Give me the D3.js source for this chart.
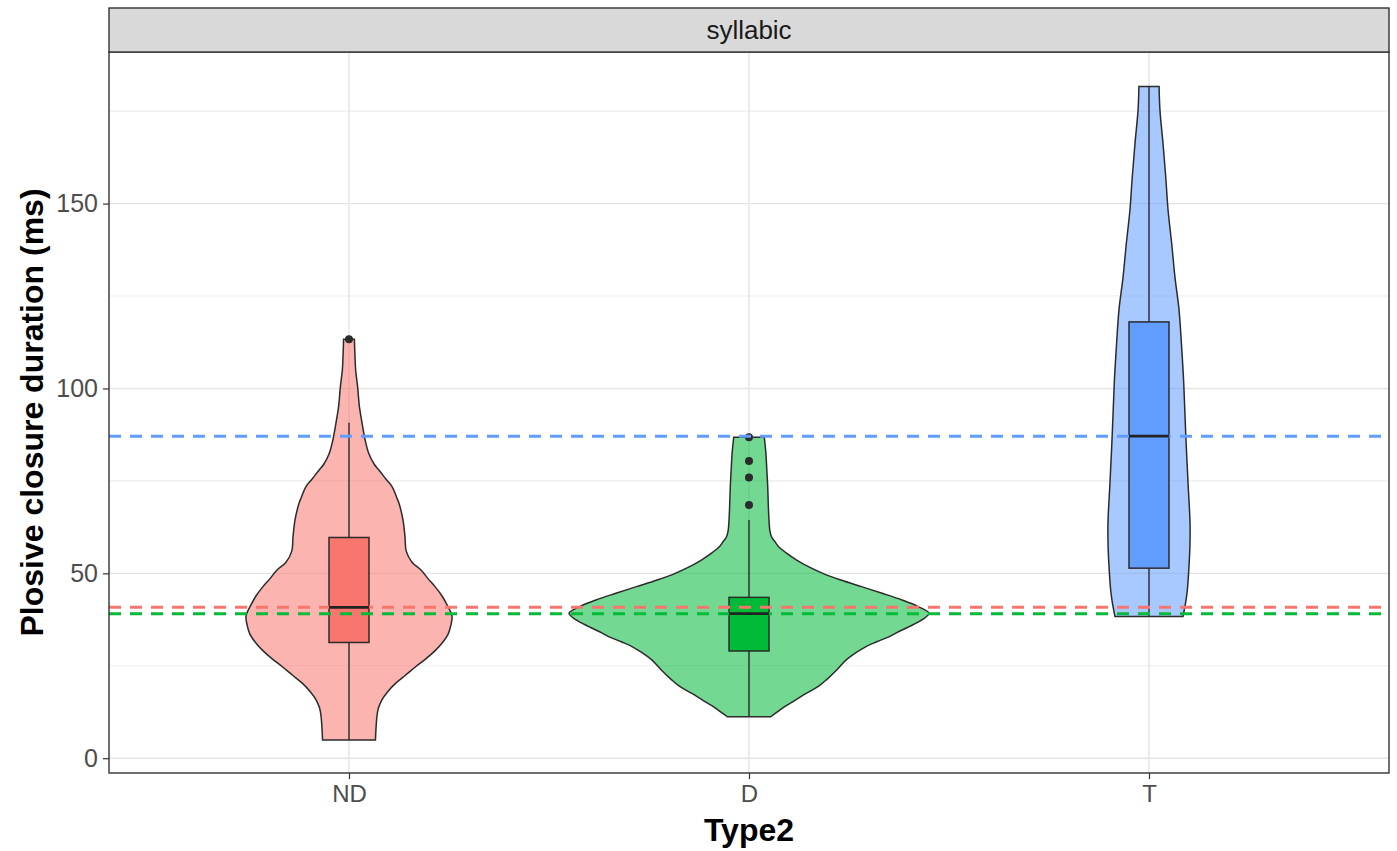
<!DOCTYPE html>
<html>
<head>
<meta charset="utf-8">
<script src="https://cdn.jsdelivr.net/npm/d3@7"></script>
<style>
  body { margin: 0; background: #fff; }
  text { font-family: "Liberation Sans", Arial, sans-serif; }
</style>
</head>
<body>
<svg id="chart" width="1397" height="851"></svg>
<script>
// Categories and colours
const categories = ["ND", "D", "T"];
const colors = ["#F8766D", "#00BA38", "#619CFF"];

// Violin outlines: [duration (ms), relative density], top to bottom
const violinND = [
  [113.3, 0.030], [109, 0.033], [105, 0.037], [100.4, 0.048], [95, 0.058], [91.4, 0.070],
  [86, 0.090], [82.4, 0.110], [79.5, 0.140], [77.9, 0.167], [75.5, 0.205], [73.4, 0.240],
  [70.5, 0.265], [68.9, 0.278], [64.4, 0.300], [59.9, 0.311], [56, 0.318], [53, 0.350],
  [50.9, 0.400], [48.5, 0.440], [46.4, 0.478], [44, 0.515], [41.9, 0.540], [38.5, 0.572],
  [36, 0.566], [33.5, 0.550], [31, 0.515], [29.3, 0.483], [27, 0.430], [24.8, 0.372],
  [22.5, 0.315], [20.3, 0.260], [18, 0.215], [15.8, 0.183], [13.5, 0.163], [11.2, 0.155],
  [8, 0.150], [4.9, 0.147]
];
const violinD = [
  [86.8, 0.085], [82.4, 0.094], [78, 0.099], [73.4, 0.104], [68.9, 0.107], [64.4, 0.111],
  [61.5, 0.116], [59.9, 0.125], [58.5, 0.145], [57.2, 0.165], [55.4, 0.210], [53.6, 0.265],
  [51.8, 0.330], [50, 0.410], [48.2, 0.510], [46.4, 0.625], [44.6, 0.740], [42.8, 0.850],
  [41, 0.940], [39.2, 1.000], [37.4, 0.960], [35.6, 0.890], [34.2, 0.830], [32.9, 0.780],
  [31.5, 0.710], [30.2, 0.650], [28.4, 0.590], [26.6, 0.540], [24, 0.490], [21.2, 0.430],
  [19.4, 0.385], [17.6, 0.320], [15.8, 0.260], [14, 0.200], [12.6, 0.160], [11.2, 0.120]
];
const violinT = [
  [181.7, 0.056], [175.2, 0.061], [166.2, 0.078], [157.2, 0.093], [148.2, 0.106],
  [139.2, 0.126], [130.2, 0.144], [121.2, 0.167], [112.2, 0.180], [101.4, 0.193],
  [87.8, 0.204], [74.3, 0.217], [63.5, 0.228], [57, 0.227], [51.8, 0.222], [46, 0.214],
  [42.8, 0.206], [38.3, 0.189]
];
const violins = [violinND, violinD, violinT];

// Box summaries: [lower whisker, Q1, median, Q3, upper whisker]
const boxND = [4.9, 31.3, 40.8, 59.7, 90.7];
const boxD = [11.2, 29.0, 39.1, 43.5, 64.4];
const boxT = [38.3, 51.4, 87.1, 118.0, 181.7];
const boxes = [boxND, boxD, boxT];

// Outlying observations
const outliersND = [113.3];
const outliersD = [86.8, 80.4, 75.9, 68.5];
const outliersT = [];
const outliers = [outliersND, outliersD, outliersT];

// Axis ticks
const yMajorTicks = [0, 50, 100, 150];
const yMinorTicks = [25, 75, 125, 175];

const panelTitle = "syllabic";
const xTitle = "Type2";
const yTitle = "Plosive closure duration (ms)";

// Layout
const svg = d3.select("#chart");
const P = { left: 109, right: 1389, top: 52, bottom: 773, stripTop: 8 };

const x = d3.scalePoint().domain(categories).range([P.left, P.right]).padding(0.6);
const step = x.step();
const y = d3.scaleLinear().domain([-4, 191]).range([P.bottom, P.top]);
const w = d3.scaleLinear().domain([0, 1]).range([0, step * 0.45]);
const boxHalf = step * 0.05;
const ink = "#2b2b2b";

// Panel background and grid
svg.append("rect").attr("x", P.left).attr("y", P.top)
  .attr("width", P.right - P.left).attr("height", P.bottom - P.top).attr("fill", "#fff");

const grid = svg.append("g");
grid.selectAll(".minor").data(yMinorTicks).join("line")
  .attr("x1", P.left).attr("x2", P.right)
  .attr("y1", d => y(d)).attr("y2", d => y(d))
  .attr("stroke", "#EDEDED").attr("stroke-width", 1.1);
grid.selectAll(".major").data(yMajorTicks).join("line")
  .attr("x1", P.left).attr("x2", P.right)
  .attr("y1", d => y(d)).attr("y2", d => y(d))
  .attr("stroke", "#E4E4E4").attr("stroke-width", 1.4);
grid.selectAll(".vmajor").data(categories).join("line")
  .attr("x1", d => x(d)).attr("x2", d => x(d))
  .attr("y1", P.top).attr("y2", P.bottom)
  .attr("stroke", "#E4E4E4").attr("stroke-width", 1.4);

// Violins
const line = d3.line().curve(d3.curveCatmullRom);
categories.forEach((cat, i) => {
  const cx = x(cat);
  const prof = violins[i];
  const right = prof.map(d => [cx + w(d[1]), y(d[0])]);
  const left = prof.slice().reverse().map(d => [cx - w(d[1]), y(d[0])]);
  const pathD = line(right) + "L" + line(left).slice(1) + "Z";
  svg.append("path").attr("d", pathD)
    .attr("fill", colors[i]).attr("fill-opacity", 0.55)
    .attr("stroke", ink).attr("stroke-width", 1.5);
});

// Boxplots (whiskers, boxes, outliers)
categories.forEach((cat, i) => {
  const cx = x(cat);
  const [lo, q1, med, q3, hi] = boxes[i];
  const g = svg.append("g");
  g.append("line").attr("x1", cx).attr("x2", cx).attr("y1", y(q3)).attr("y2", y(hi))
    .attr("stroke", ink).attr("stroke-width", 1.4);
  g.append("line").attr("x1", cx).attr("x2", cx).attr("y1", y(q1)).attr("y2", y(lo))
    .attr("stroke", ink).attr("stroke-width", 1.4);
  g.append("rect").attr("x", cx - boxHalf).attr("width", boxHalf * 2)
    .attr("y", y(q3)).attr("height", y(q1) - y(q3))
    .attr("fill", colors[i]).attr("stroke", ink).attr("stroke-width", 1.5);
  g.selectAll("circle").data(outliers[i]).join("circle")
    .attr("cx", cx).attr("cy", d => y(d)).attr("r", 4).attr("fill", ink);
});

// Median reference lines
categories.forEach((cat, i) => {
  const med = boxes[i][2];
  svg.append("line").attr("x1", P.left).attr("x2", P.right)
    .attr("y1", y(med)).attr("y2", y(med))
    .attr("stroke", colors[i]).attr("stroke-width", 3)
    .attr("stroke-dasharray", "12,9");
});

// Median bars inside the boxes
categories.forEach((cat, i) => {
  const cx = x(cat);
  const med = boxes[i][2];
  svg.append("line").attr("x1", cx - boxHalf).attr("x2", cx + boxHalf)
    .attr("y1", y(med)).attr("y2", y(med))
    .attr("stroke", "#222").attr("stroke-width", 2.8);
});

// Panel border
svg.append("rect").attr("x", P.left).attr("y", P.top)
  .attr("width", P.right - P.left).attr("height", P.bottom - P.top)
  .attr("fill", "none").attr("stroke", "#333").attr("stroke-width", 1.4);

// Facet strip
svg.append("rect").attr("x", P.left).attr("y", P.stripTop)
  .attr("width", P.right - P.left).attr("height", P.top - P.stripTop)
  .attr("fill", "#D9D9D9").attr("stroke", "#333").attr("stroke-width", 1.4);
svg.append("text").attr("x", (P.left + P.right) / 2).attr("y", (P.stripTop + P.top) / 2)
  .attr("text-anchor", "middle").attr("dominant-baseline", "central")
  .attr("font-size", 26).attr("fill", "#1A1A1A").text(panelTitle);

// Y axis
const yAxis = d3.axisLeft(y).tickValues(yMajorTicks).tickSize(6).tickPadding(5);
const gy = svg.append("g").attr("transform", `translate(${P.left},0)`).call(yAxis);
gy.select(".domain").remove();
gy.selectAll(".tick line").attr("stroke", "#333").attr("stroke-width", 1.2);
gy.selectAll(".tick text").attr("font-size", 25).attr("fill", "#4D4D4D")
  .attr("font-family", "Liberation Sans, Arial, sans-serif");

// X axis
const xAxis = d3.axisBottom(x).tickSize(6).tickPadding(6);
const gx = svg.append("g").attr("transform", `translate(0,${P.bottom})`).call(xAxis);
gx.select(".domain").remove();
gx.selectAll(".tick line").attr("stroke", "#333").attr("stroke-width", 1.2);
gx.selectAll(".tick text").attr("font-size", 24).attr("fill", "#4D4D4D")
  .attr("font-family", "Liberation Sans, Arial, sans-serif");

// Axis titles
svg.append("text").attr("x", (P.left + P.right) / 2).attr("y", 841)
  .attr("text-anchor", "middle").attr("font-size", 32).attr("font-weight", "bold")
  .attr("fill", "#000").text(xTitle);
svg.append("text")
  .attr("transform", `translate(43,${(P.top + P.bottom) / 2}) rotate(-90)`)
  .attr("text-anchor", "middle").attr("font-size", 32).attr("font-weight", "bold")
  .attr("fill", "#000").text(yTitle);
</script>
</body>
</html>
